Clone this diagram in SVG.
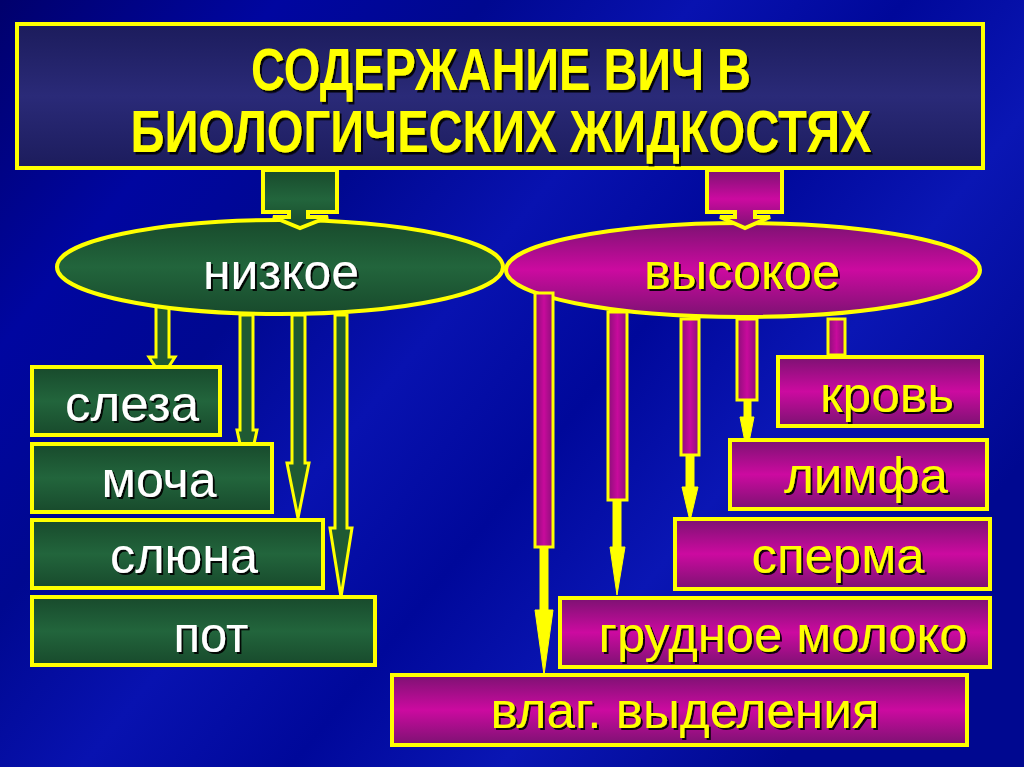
<svg xmlns="http://www.w3.org/2000/svg" width="1024" height="767" viewBox="0 0 1024 767">
<defs>
<linearGradient id="bg" x1="0" y1="0" x2="1" y2="0.6">
<stop offset="0" stop-color="#00006c"/>
<stop offset="0.2" stop-color="#0006a0"/>
<stop offset="0.35" stop-color="#000890"/>
<stop offset="0.5" stop-color="#0812b0"/>
<stop offset="0.65" stop-color="#00089a"/>
<stop offset="0.8" stop-color="#0a16b4"/>
<stop offset="1" stop-color="#000890"/>
</linearGradient>
<linearGradient id="navy" x1="0" y1="0" x2="0" y2="1">
<stop offset="0" stop-color="#1c1c5c"/>
<stop offset="0.5" stop-color="#2a2a78"/>
<stop offset="1" stop-color="#1c1c5c"/>
</linearGradient>
<linearGradient id="green" x1="0" y1="0" x2="0" y2="1">
<stop offset="0" stop-color="#184a2c"/>
<stop offset="0.5" stop-color="#22653c"/>
<stop offset="1" stop-color="#184a2c"/>
</linearGradient>
<linearGradient id="mag" x1="0" y1="0" x2="0" y2="1">
<stop offset="0" stop-color="#7c1272"/>
<stop offset="0.5" stop-color="#cc0aa0"/>
<stop offset="1" stop-color="#7c1272"/>
</linearGradient>
<linearGradient id="magh" x1="0" y1="0" x2="1" y2="0">
<stop offset="0" stop-color="#8a1078"/>
<stop offset="0.5" stop-color="#c80a9c"/>
<stop offset="1" stop-color="#8a1078"/>
</linearGradient>
<filter id="sh" x="-5%" y="-30%" width="110%" height="160%">
<feDropShadow dx="2" dy="2" stdDeviation="0.6" flood-color="#000" flood-opacity="0.9"/>
</filter>
<style>
.y{stroke:#ffff00;stroke-width:4}
.g{fill:url(#green)}
.m{fill:url(#mag)}
.t{font-family:"Liberation Sans",Arial,sans-serif;font-size:50px;text-anchor:middle;filter:url(#sh)}
.w{fill:#ffffff}
.yt{fill:#ffff00}
.ttl{font-family:"Liberation Sans",Arial,sans-serif;font-weight:bold;font-size:46px;text-anchor:middle;fill:#ffff00;filter:url(#sh)}
.ga{fill:#1f5a33;stroke:#ffff00;stroke-width:3;stroke-linejoin:miter}
.ma{fill:url(#magh);stroke:#ffff00;stroke-width:3}
.ya{fill:#ffff00;stroke:#ffff00;stroke-width:1}
</style>
</defs>
<rect x="0" y="0" width="1024" height="767" fill="url(#bg)"/>

<g id="title">
<rect x="17" y="24" width="966" height="144" fill="url(#navy)" class="y"/>
<text class="ttl" transform="translate(501,90) scale(1,1.27)" x="0" y="0" textLength="500" lengthAdjust="spacingAndGlyphs">СОДЕРЖАНИЕ ВИЧ В</text>
<text class="ttl" transform="translate(501,152) scale(1,1.27)" x="0" y="0" textLength="741" lengthAdjust="spacingAndGlyphs">БИОЛОГИЧЕСКИХ ЖИДКОСТЯХ</text>
</g>

<g id="connectors-low">
<polygon class="ga" points="156,300 169,300 169,357 175,357 162,377 149,357 156,357"/>
<polygon class="ga" points="240,315 253,315 253,430 257,430 247,476 237,430 240,430"/>
<polygon class="ga" points="292,315 305,315 305,463 309,463 298,518 287,463 292,463"/>
<polygon class="ga" points="335,315 347,315 347,528 352,528 341,597 330,528 335,528"/>
</g>

<g id="node-low">
<ellipse cx="280" cy="267" rx="223" ry="47" class="y g" stroke-width="3"/>
<text class="t w" x="281" y="289" textLength="156" lengthAdjust="spacingAndGlyphs">низкое</text>
</g>
<g id="node-high">
<ellipse cx="743" cy="270" rx="237" ry="47" class="y m" stroke-width="3"/>
<text class="t yt" x="742" y="289" textLength="196" lengthAdjust="spacingAndGlyphs">высокое</text>
</g>

<g id="connectors-top">
<polygon class="y" fill="url(#green)" stroke-width="3" points="263,170 337,170 337,212 308,212 308,217 328,217 300,228 273,217 289,217 289,212 263,212"/>
<polygon class="y" fill="url(#mag)" stroke-width="3" points="707,170 782,170 782,212 755,212 755,217 770,217 745,228 720,217 735,217 735,212 707,212"/>
</g>

<g id="connectors-high">
<polygon class="ya" points="540,545 548,545 548,610 553,610 544,675 535,610 540,610"/>
<rect class="ma" x="535" y="293" width="18" height="254"/>
<polygon class="ya" points="613,498 621,498 621,547 625,547 617,595 610,547 613,547"/>
<rect class="ma" x="608" y="312" width="19" height="188"/>
<polygon class="ya" points="686,453 694,453 694,487 698,487 690,521 682,487 686,487"/>
<rect class="ma" x="681" y="319" width="18" height="136"/>
<polygon class="ya" points="744,398 751,398 751,417 754,417 747,452 740,417 744,417"/>
<rect class="ma" x="737" y="319" width="20" height="81"/>
<polygon class="ya" points="828,353 845,353 837,380"/>
<rect class="ma" x="828" y="319" width="17" height="36"/>
</g>

<g id="node-sleza">
<rect x="32" y="367" width="188" height="68" class="y g"/>
<text class="t w" x="132" y="421" textLength="134" lengthAdjust="spacingAndGlyphs">слеза</text>
</g>
<g id="node-mocha">
<rect x="32" y="444" width="240" height="68" class="y g"/>
<text class="t w" x="159" y="497" textLength="115" lengthAdjust="spacingAndGlyphs">моча</text>
</g>
<g id="node-sluna">
<rect x="32" y="520" width="291" height="68" class="y g"/>
<text class="t w" x="184" y="573" textLength="148" lengthAdjust="spacingAndGlyphs">слюна</text>
</g>
<g id="node-pot">
<rect x="32" y="597" width="343" height="68" class="y g"/>
<text class="t w" x="211" y="652" textLength="75" lengthAdjust="spacingAndGlyphs">пот</text>
</g>

<g id="node-krov">
<rect x="778" y="357" width="204" height="69" class="y m"/>
<text class="t yt" x="887" y="412" textLength="134" lengthAdjust="spacingAndGlyphs">кровь</text>
</g>
<g id="node-limfa">
<rect x="730" y="440" width="257" height="69" class="y m"/>
<text class="t yt" x="866" y="493" textLength="164" lengthAdjust="spacingAndGlyphs">лимфа</text>
</g>
<g id="node-sperma">
<rect x="675" y="519" width="315" height="70" class="y m"/>
<text class="t yt" x="838" y="573" textLength="173" lengthAdjust="spacingAndGlyphs">сперма</text>
</g>
<g id="node-moloko">
<rect x="560" y="598" width="430" height="69" class="y m"/>
<text class="t yt" x="783" y="652" textLength="369" lengthAdjust="spacingAndGlyphs">грудное молоко</text>
</g>
<g id="node-vlag">
<rect x="392" y="675" width="575" height="70" class="y m"/>
<text class="t yt" x="685" y="728" textLength="389" lengthAdjust="spacingAndGlyphs">влаг. выделения</text>
</g>
</svg>
